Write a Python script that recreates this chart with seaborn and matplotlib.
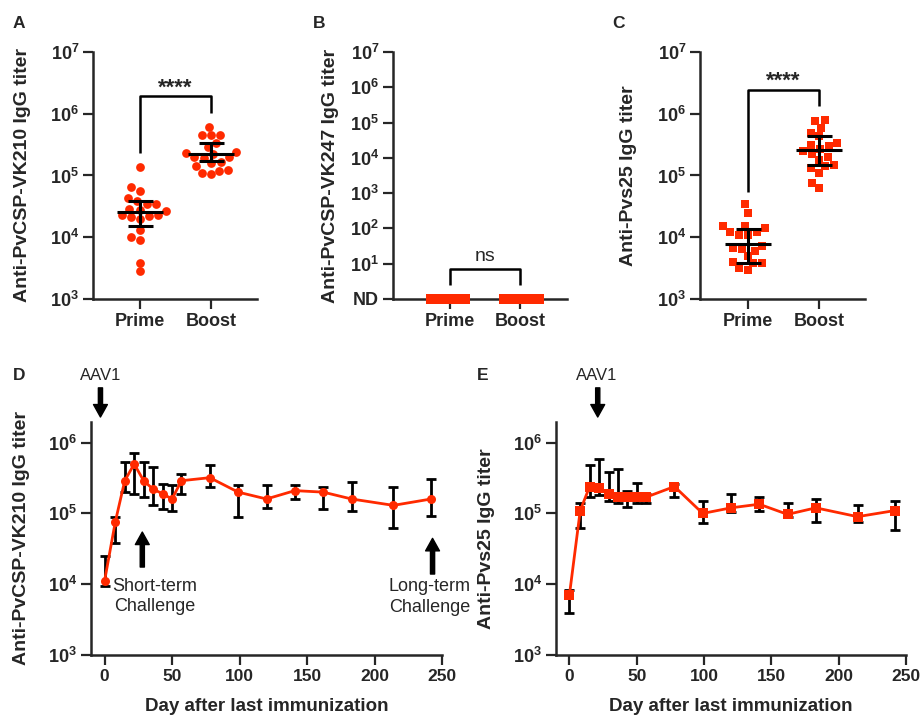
import numpy as np
import pandas as pd
import matplotlib
matplotlib.use("Agg")
import matplotlib.pyplot as plt
import seaborn as sns

# ------- DATA -------

groups = ["Prime", "Boost"]

# A: anti-PvCSP-VK210 endpoint titers
vk210_prime = [1.39e5, 6.5e4, 5.7e4, 4.3e4, 3.8e4, 3.5e4, 3.5e4, 2.9e4, 2.8e4, 2.7e4,
               2.3e4, 2.3e4, 2.2e4, 2.1e4, 2.0e4, 1.3e4, 1.0e4, 9.1e3, 3.9e3, 2.8e3]
vk210_boost = [6.2e5, 4.6e5, 4.6e5, 4.5e5, 3.3e5, 2.9e5, 2.4e5, 2.3e5, 2.2e5, 2.0e5,
               2.0e5, 1.95e5, 1.65e5, 1.6e5, 1.4e5, 1.25e5, 1.2e5, 1.05e5, 1.1e5]
vk210_mean = [2.6e4, 2.25e5]
vk210_lo = [1.5e4, 1.7e5]
vk210_hi = [3.9e4, 3.3e5]

# B: anti-PvCSP-VK247, all not detected (plotted at ND = 1)
vk247_prime = [1.0] * 20
vk247_boost = [1.0] * 19

# C: anti-Pvs25 endpoint titers
pvs25_prime = [3.4e4, 2.5e4, 1.5e4, 1.5e4, 1.4e4, 1.23e4, 1.2e4, 1.1e4, 1.1e4, 7.2e3,
               6.8e3, 6.4e3, 5.9e3, 4.9e3, 4.0e3, 3.8e3, 3.8e3, 3.2e3, 2.9e3]
pvs25_boost = [8.0e5, 7.5e5, 5.9e5, 4.9e5, 4.3e5, 3.3e5, 3.1e5, 2.95e5, 2.7e5, 2.45e5,
               2.25e5, 2.0e5, 1.8e5, 1.5e5, 1.4e5, 1.3e5, 1.1e5, 7.6e4, 6.2e4]
pvs25_mean = [7.8e3, 2.6e5]
pvs25_lo = [3.8e3, 1.5e5]
pvs25_hi = [1.35e4, 4.3e5]

# D / E: kinetics after last immunization
days = [0, 8, 15, 22, 29, 36, 43, 50, 57, 78, 99, 120, 141, 162, 183, 214, 242]
d_mean = [1.1e4, 7.6e4, 2.9e5, 5.0e5, 2.9e5, 2.2e5, 1.9e5, 1.6e5, 2.9e5, 3.2e5,
          2.0e5, 1.6e5, 2.1e5, 2.0e5, 1.6e5, 1.3e5, 1.6e5]
d_lo = [9.3e3, 3.8e4, 2.0e5, 1.9e5, 1.7e5, 1.3e5, 1.15e5, 1.1e5, 1.9e5, 2.4e5,
        9.0e4, 1.2e5, 1.6e5, 1.15e5, 1.1e5, 6.3e4, 9.2e4]
d_hi = [2.5e4, 9.0e4, 5.4e5, 7.2e5, 5.4e5, 4.6e5, 2.6e5, 2.5e5, 3.6e5, 4.8e5,
        2.5e5, 2.5e5, 2.5e5, 2.4e5, 2.8e5, 2.35e5, 3.1e5]
e_mean = [7.1e3, 1.1e5, 2.4e5, 2.3e5, 1.9e5, 1.7e5, 1.7e5, 1.7e5, 1.7e5, 2.4e5,
          1.0e5, 1.2e5, 1.35e5, 9.7e4, 1.2e5, 9.0e4, 1.1e5]
e_lo = [3.9e3, 6.2e4, 1.7e5, 1.8e5, 1.5e5, 1.4e5, 1.25e5, 1.4e5, 1.4e5, 1.7e5,
        7.3e4, 1.05e5, 1.1e5, 9.0e4, 7.6e4, 7.5e4, 5.9e4]
e_hi = [8.3e3, 1.4e5, 4.9e5, 5.8e5, 3.9e5, 4.2e5, 2.1e5, 2.7e5, 1.9e5, 2.6e5,
        1.5e5, 1.9e5, 1.7e5, 1.4e5, 1.6e5, 1.3e5, 1.5e5]

RED = "#ff2a00"
W, H = 922, 717

sns.set_style("white")
plt.rcParams["font.family"] = ["Liberation Sans", "DejaVu Sans"]
plt.rcParams["mathtext.fontset"] = "custom"
plt.rcParams["mathtext.rm"] = "Liberation Sans"
plt.rcParams["mathtext.bf"] = "Liberation Sans:bold"

np.random.seed(3)

fig = plt.figure(figsize=(W / 100, H / 100), dpi=100)


def px_axes(left, top, right, bottom):
    return fig.add_axes([left / W, 1 - bottom / H, (right - left) / W, (bottom - top) / H])


def style(ax):
    sns.despine(ax=ax)
    for s in ["left", "bottom"]:
        ax.spines[s].set_linewidth(1.8)
    ax.tick_params(axis="both", which="major", length=7, width=1.6, direction="out",
                   left=True, bottom=True, pad=3)
    ax.tick_params(axis="both", which="minor", length=0)


def log_ticks(ax, lo, hi, nd=False):
    exps = list(range(lo, hi + 1))
    ax.set_yticks([10.0 ** e for e in exps])
    labels = [r"$\mathbf{10^{%d}}$" % e for e in exps]
    if nd:
        labels[0] = "ND"
    ax.set_yticklabels(labels, fontsize=13, fontweight="bold")
    ax.minorticks_off()


def dot_panel(ax, prime, boost, mean, lo, hi, marker, ylabel):
    ax.set_yscale("log")
    df = pd.DataFrame({"group": ["Prime"] * len(prime) + ["Boost"] * len(boost),
                       "titer": prime + boost})
    sns.swarmplot(data=df, x="group", y="titer", order=groups, color=RED, marker=marker,
                  size=6.3, linewidth=0, ax=ax, zorder=2)
    for i in range(2):
        ax.hlines(mean[i], i - 0.32, i + 0.32, color="black", lw=2.2, zorder=3)
        ax.errorbar(i, mean[i], yerr=[[mean[i] - lo[i]], [hi[i] - mean[i]]], fmt="none",
                    ecolor="black", elinewidth=2.2, capsize=9, capthick=2.2, zorder=3)
    ax.set_ylim(1e3, 1e7)
    log_ticks(ax, 3, 7)
    ax.set_xlabel("")
    ax.set_ylabel(ylabel, fontsize=14, fontweight="bold")
    ax.set_xticks([0, 1])
    ax.set_xticklabels(groups, fontsize=13, fontweight="bold")


def bracket(ax, y0, ytop, y1, text, bold=True, size=16, ty=None):
    ax.plot([0, 0, 1, 1], [y0, ytop, ytop, y1], color="black", lw=1.8,
            clip_on=False, solid_capstyle="butt")
    ax.text(0.5, ty if ty else ytop * 1.12, text, ha="center", va="baseline",
            fontsize=size, fontweight="bold" if bold else "normal")


# ------- A -------
axA = px_axes(93, 52, 257, 299)
dot_panel(axA, vk210_prime, vk210_boost, vk210_mean, vk210_lo, vk210_hi, "o",
          "Anti-PvCSP-VK210 IgG titer")
axA.set_xlim(-0.66, 1.65)
bracket(axA, 10 ** 5.36, 10 ** 6.28, 10 ** 6.01, "****")
style(axA)
axA.yaxis.set_label_coords(-0.378, 0.5)

# ------- B -------
axB = px_axes(393, 52, 567, 299)
axB.set_yscale("log")
dfB = pd.DataFrame({"group": ["Prime"] * len(vk247_prime) + ["Boost"] * len(vk247_boost),
                    "titer": vk247_prime + vk247_boost})
sns.stripplot(data=dfB, x="group", y="titer", order=groups, color=RED, jitter=0.28,
              marker="s", size=7, linewidth=0, ax=axB, clip_on=False, zorder=3)
axB.set_ylim(1, 1e7)
axB.set_xlim(-0.81, 1.67)
log_ticks(axB, 0, 7, nd=True)
axB.set_xlabel("")
axB.set_ylabel("Anti-PvCSP-VK247 IgG titer", fontsize=14, fontweight="bold")
axB.set_xticks([0, 1])
axB.set_xticklabels(groups, fontsize=13, fontweight="bold")
bracket(axB, 10 ** 0.4, 10 ** 0.84, 10 ** 0.4, "ns", bold=False, size=14, ty=10 ** 1.08)
style(axB)
axB.yaxis.set_label_coords(-0.31, 0.5)

# ------- C -------
axC = px_axes(700, 52, 865, 299)
dot_panel(axC, pvs25_prime, pvs25_boost, pvs25_mean, pvs25_lo, pvs25_hi, "s",
          "Anti-Pvs25 IgG titer")
axC.set_xlim(-0.68, 1.65)
bracket(axC, 10 ** 4.74, 10 ** 6.39, 10 ** 6.12, "****")
style(axC)
axC.yaxis.set_label_coords(-0.379, 0.5)


# ------- D / E -------
def kinetics(ax, mean, lo, hi, marker, ms, ylabel):
    ax.set_yscale("log")
    yerr = [np.array(mean) - np.array(lo), np.array(hi) - np.array(mean)]
    ax.errorbar(days, mean, yerr=yerr, fmt="none", ecolor="black", elinewidth=2,
                capsize=3.6, capthick=2, zorder=2)
    sns.lineplot(x=days, y=mean, color=RED, marker=marker, markersize=ms,
                 markeredgewidth=0, linewidth=2, ax=ax, zorder=3)
    ax.set_xlim(-10, 250)
    ax.set_ylim(1e3, 10 ** 6.296)
    log_ticks(ax, 3, 6)
    ax.set_xticks([0, 50, 100, 150, 200, 250])
    ax.set_xticklabels(["0", "50", "100", "150", "200", "250"], fontsize=12.5,
                       fontweight="bold")
    ax.set_xlabel("Day after last immunization", fontsize=13.5, fontweight="bold")
    ax.set_ylabel(ylabel, fontsize=14, fontweight="bold")
    style(ax)
    ax.yaxis.set_label_coords(-0.174, 0.5)
    ax.xaxis.set_label_coords(0.5, -0.185)


def arrow(ax, x, tip, base):
    ax.annotate("", xy=(x, tip), xytext=(x, base),
                xycoords=("data", "axes fraction"), textcoords=("data", "axes fraction"),
                arrowprops=dict(facecolor="black", edgecolor="black", width=3,
                                headwidth=10, headlength=9, shrink=0),
                annotation_clip=False)


axD = px_axes(91, 421.7, 442, 655)
kinetics(axD, d_mean, d_lo, d_hi, "o", 6.5, "Anti-PvCSP-VK210 IgG titer")
arrow(axD, -3, 1.02, 1.145)
axD.text(-3, 1.20, "AAV1", transform=axD.get_xaxis_transform(), ha="center",
         va="center", fontsize=12, clip_on=False)
arrow(axD, 28, 0.527, 0.377)
axD.text(37, 0.25, "Short-term\nChallenge", transform=axD.get_xaxis_transform(),
         ha="center", va="center", fontsize=13, linespacing=1.25, clip_on=False)
arrow(axD, 243, 0.50, 0.347)
axD.text(241, 0.249, "Long-term\nChallenge", transform=axD.get_xaxis_transform(),
         ha="center", va="center", fontsize=13, linespacing=1.25, clip_on=False)

axE = px_axes(556, 421.7, 906, 655)
kinetics(axE, e_mean, e_lo, e_hi, "s", 7, "Anti-Pvs25 IgG titer")
arrow(axE, 21, 1.02, 1.145)
axE.text(20, 1.20, "AAV1", transform=axE.get_xaxis_transform(), ha="center",
         va="center", fontsize=12, clip_on=False)

# panel letters
for letter, x, y in [("A", 13, 23), ("B", 313, 23), ("C", 612, 23), ("D", 13, 376), ("E", 477, 376)]:
    fig.text(x / W, 1 - y / H, letter, fontsize=12.5, fontweight="bold", va="center", ha="left")

fig.savefig("out.png", dpi=100)
